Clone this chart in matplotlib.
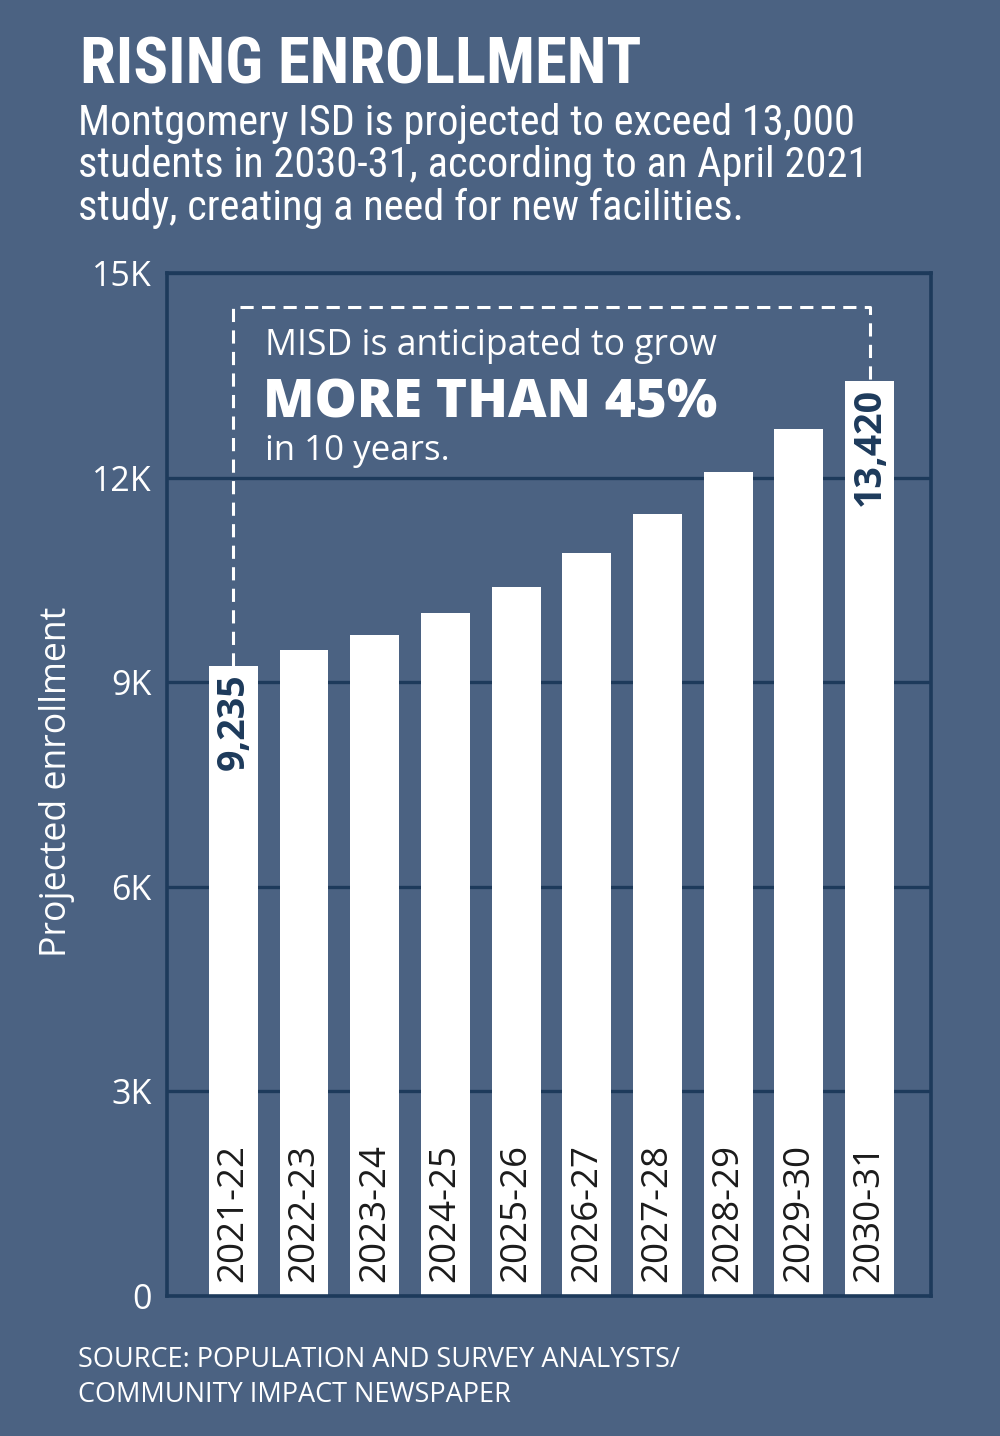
import matplotlib
matplotlib.use("Agg")
import matplotlib.pyplot as plt

# data
years = ["2021-22", "2022-23", "2023-24", "2024-25", "2025-26",
         "2026-27", "2027-28", "2028-29", "2029-30", "2030-31"]
enrollment = [9235, 9470, 9690, 10010, 10400, 10890, 11470, 12080, 12710, 13420]
yticks = [0, 3000, 6000, 9000, 12000, 15000]
ytick_labels = ["0", "3K", "6K", "9K", "12K", "15K"]
bracket_top = 14500

bg = "#4b6282"
navy = "#1d3a5b"
W, H = 1000, 1436
narrow = ["Roboto Condensed", "Roboto", "DejaVu Sans"]

plt.rcParams["font.family"] = ["Open Sans", "DejaVu Sans"]
plt.rcParams["lines.scale_dashes"] = False

fig = plt.figure(figsize=(W / 100, H / 100), dpi=100, facecolor=bg)
renderer = fig.canvas.get_renderer()


def px(x, y):
    return x / W, 1 - y / H


def fit_text(x, y, s, width, **kw):
    # put text at pixel position and scale its size to a target pixel width
    t = fig.text(*px(x, y), s, **kw)
    bb = t.get_window_extent(renderer)
    t.set_fontsize(t.get_fontsize() * width / bb.width)
    return t


# header
fit_text(80, 83, "RISING ENROLLMENT", 560, color="white", fontsize=40,
         family=narrow, weight="black", va="baseline")
sub = fit_text(78, 135, "Montgomery ISD is projected to exceed 13,000", 777,
               color="white", fontsize=26, family=narrow, va="baseline")
fs = sub.get_fontsize()
fig.text(*px(78, 177), "students in 2030-31, according to an April 2021",
         color="white", fontsize=fs, family=narrow, va="baseline")
fig.text(*px(78, 220), "study, creating a need for new facilities.",
         color="white", fontsize=fs, family=narrow, va="baseline")

# chart
ax = fig.add_axes([167 / W, 1 - 1296 / H, 764 / W, (1296 - 273) / H])
ax.set_facecolor(bg)
x = list(range(len(years)))
ax.bar(x, enrollment, width=0.69, color="white", zorder=2)
ax.set_xlim(-0.94, 9.87)
ax.set_ylim(0, 15000)
ax.set_yticks(yticks)
ax.set_yticklabels(ytick_labels)
ax.set_xticks([])
ax.tick_params(axis="y", length=0, pad=11, labelsize=24.5, labelcolor="white")
ax.grid(axis="y", color=navy, lw=2.4, zorder=0)
ax.set_axisbelow(True)
for side in ["left", "bottom", "right", "top"]:
    ax.spines[side].set_color(navy)
    ax.spines[side].set_linewidth(2.6)

for i, yr in enumerate(years):
    ax.text(i, 200, yr, rotation=90, ha="center", va="bottom",
            fontsize=26.5, color="#1b1b1b", zorder=3)

for i in [0, len(years) - 1]:
    ax.text(i, enrollment[i] - 110, f"{enrollment[i]:,}", rotation=90,
            ha="center", va="top", fontsize=27, weight="bold",
            color=navy, zorder=3)

# dashed bracket from first to last bar
ax.plot([0, 0, 9, 9], [enrollment[0], bracket_top, bracket_top, enrollment[-1]],
        color="white", lw=2.2, dashes=(9.5, 6), zorder=1, clip_on=False)

# annotation
fit_text(265, 355, "MISD is anticipated to grow", 452, color="white",
         fontsize=24, va="baseline")
fit_text(263, 417, "MORE THAN 45%", 454, color="white", fontsize=34,
         weight="heavy", va="baseline")
fit_text(265, 460, "in 10 years.", 185, color="white", fontsize=24,
         va="baseline")

# y label
fig.text(*px(57, 782), "Projected enrollment", rotation=90, ha="center",
         va="center", color="white", fontsize=25.7)

# source
src = fit_text(78, 1367, "SOURCE: POPULATION AND SURVEY ANALYSTS/", 602,
               color="white", fontsize=17, va="baseline")
fig.text(*px(78, 1402), "COMMUNITY IMPACT NEWSPAPER", color="white",
         fontsize=src.get_fontsize(), va="baseline")

fig.savefig("out.png", dpi=100, facecolor=bg)
